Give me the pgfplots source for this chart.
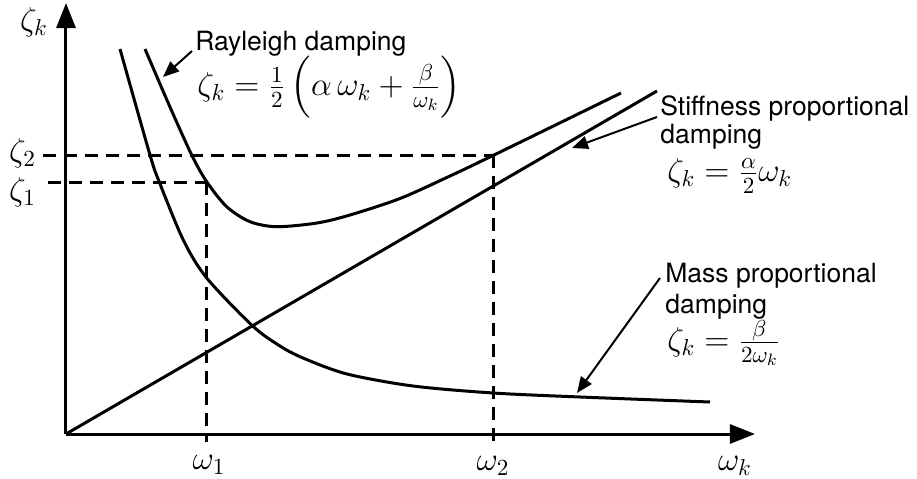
\RequirePackage{fix-cm}
\documentclass[border=0pt]{standalone}
\usepackage{amsmath}
\usepackage[no-math]{fontspec}
\setmainfont{TeX Gyre Heros}
\usepackage{pgfplots}
\pgfplotsset{compat=1.18}
\usetikzlibrary{arrows.meta}

\newcommand{\txt}{\fontsize{13.25bp}{13.5bp}\selectfont}
\newcommand{\mth}{\fontsize{16.5bp}{18bp}\selectfont}

\begin{document}
\begin{tikzpicture}
\begin{axis}[
  x=0.5bp, y=0.5bp,
  xmin=0, xmax=689, ymin=0, ymax=431,
  at={(0,0)}, anchor=origin,
  hide axis, clip=false,
  curve/.style={black, line width=1.5bp, no markers},
  dashline/.style={black, line width=1.5bp, dash pattern=on 6.5bp off 4bp, no markers},
  axisline/.style={black, line width=1.5bp, no markers, -{Triangle[length=12.5bp,width=9.5bp]}},
  callout/.style={black, line width=1bp, no markers, -{Triangle[length=8bp,width=6.5bp]}},
]
% coordinate axes
\addplot[axisline] coordinates {(0,0) (689,0)};
\addplot[axisline] coordinates {(0,0) (0,431)};

% stiffness proportional damping
\addplot[curve] coordinates {(0,0) (591,343)};

% mass proportional damping
\addplot[curve, smooth] coordinates {
  (54,385) (84,279) (93.3,252) (117.3,194) (140.7,156) (186.7,108) (214,88)
  (237,76) (281,60) (347,48) (427,41) (514,37) (644,32)};

% Rayleigh damping
\addplot[curve, smooth] coordinates {
  (79,385) (104,327) (125.7,279) (140.7,252.3) (160.7,227.3) (184,212.3)
  (210.7,207.3) (251,211) (284,219) (334,235.5) (384,258) (428,279) (555,341)};

% reference frequencies and damping ratios
\addplot[dashline] coordinates {(-23,279) (428,279)};
\addplot[dashline] coordinates {(-18,252) (140.7,252)};
\addplot[dashline] coordinates {(140.7,252) (140.7,-8)};
\addplot[dashline] coordinates {(428,279) (428,-9)};

% callout arrows
\addplot[callout] coordinates {(126,383) (97,357)};
\addplot[callout] coordinates {(591,317) (506,286)};
\addplot[callout] coordinates {(594,156) (511,41)};

% axis labels
\node[inner sep=0] at (axis cs:-32,412) {\mth$\zeta_k$};
\node[inner sep=0] at (axis cs:-43.5,281) {\mth$\zeta_2$};
\node[inner sep=0] at (axis cs:-43.5,242) {\mth$\zeta_1$};
\node[inner sep=0] at (axis cs:143,-31) {\mth$\omega_1$};
\node[inner sep=0] at (axis cs:427,-32) {\mth$\omega_2$};
\node[inner sep=0] at (axis cs:669,-32) {\mth$\omega_k$};

% annotations
\node[inner sep=0, anchor=base west] at (axis cs:129,384) {\txt Rayleigh damping};
\node[inner sep=0, anchor=west] at (axis cs:131,346.5)
  {\mth$\zeta_k = \frac{1}{2}\left(\alpha\,\omega_k + \frac{\beta}{\omega_k}\right)$};

\node[inner sep=0, anchor=base west] at (axis cs:594,319) {\txt Stiffness proportional};
\node[inner sep=0, anchor=base west] at (axis cs:594,291) {\txt damping};
\node[inner sep=0, anchor=west] at (axis cs:601,258)
  {\mth$\zeta_k = \frac{\alpha}{2}\omega_k$};

\node[inner sep=0, anchor=base west] at (axis cs:599,152) {\txt Mass proportional};
\node[inner sep=0, anchor=base west] at (axis cs:599,121) {\txt damping};
\node[inner sep=0, anchor=west] at (axis cs:601,91)
  {\mth$\zeta_k = \frac{\beta}{2\omega_k}$};
\end{axis}
\path (-33bp,-22.5bp) rectangle (425.5bp,217bp);
\end{tikzpicture}
\end{document}
